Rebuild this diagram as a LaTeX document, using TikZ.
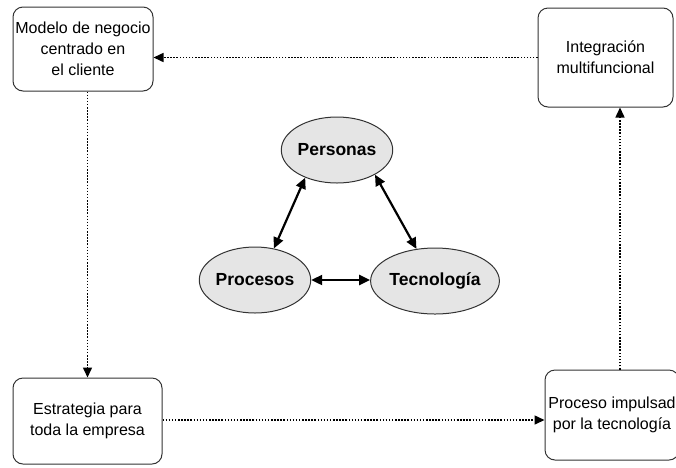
\documentclass[tikz,border=0pt]{standalone}
\usepackage{fontspec}
\setmainfont{Liberation Sans}
\usetikzlibrary{shapes.geometric,arrows.meta}
\begin{document}
\begin{tikzpicture}[x=1pt,y=-1pt,
  bx/.style={draw=black!80,line width=1pt,rounded corners=10pt,align=center,inner sep=0pt,
    font=\fontsize{16}{21}\selectfont,text=black},
  ell/.style={ellipse,draw=black!80,line width=1pt,fill=black!10,inner sep=0pt,
    minimum width=108pt,minimum height=66pt,font=\fontsize{17.5}{21}\selectfont\bfseries},
  dotarrow/.style={line width=1.5pt,dash pattern=on 1.5pt off 1.6pt,-{Triangle[length=10pt,width=9pt]}},
  solarrow/.style={line width=2.2pt,{Triangle[length=11pt,width=10pt]}-{Triangle[length=11pt,width=10pt]}}]
\useasboundingbox (0,0) rectangle (676,467);
\node[bx,minimum width=140pt,minimum height=84pt] (m) at (83,49) {Modelo de negocio\\centrado en\\el cliente};
\node[bx,minimum width=135pt,minimum height=99pt] (i) at (605.5,57.5) {Integración\\multifuncional};
\node[bx,minimum width=149pt,minimum height=86pt] (e) at (87.5,421) {Estrategia para\\toda la empresa};
\node[bx,minimum width=134pt,minimum height=90pt] (p) at (612,415) {Proceso impulsad\\por la tecnología};
\node[ell] (per) at (337,150) {Personas};
\node[ell] (pro) at (255,280) {Procesos};
\node[ell] (tec) at (435,281) {Tecnología};
\draw[dotarrow] (i.west) -- (i.west -| m.east);
\draw[dotarrow] (e.north |- m.south) -- (e.north);
\draw[dotarrow] (e.east |- 0,420) -- (p.west |- 0,420);
\draw[dotarrow] ([xshift=8pt]p.north) -- ([xshift=8pt]p.north |- i.south);
\draw[solarrow] (per.221) -- (pro.59);
\draw[solarrow] (per.327) -- (tec.120);
\draw[solarrow] (pro.east) -- (pro.east -| tec.west);
\end{tikzpicture}
\end{document}
